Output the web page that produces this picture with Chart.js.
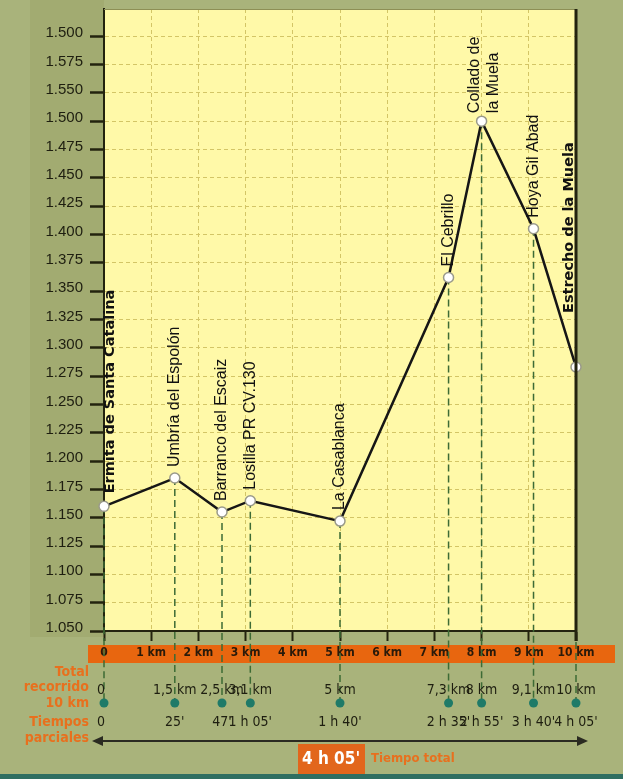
<!DOCTYPE html>
<html>
<head>
<meta charset="utf-8">
<script src="https://cdn.jsdelivr.net/npm/chart.js@4.4.1/dist/chart.umd.min.js"></script>
<style>
  html, body { margin: 0; padding: 0; background: #a9b37b; }
</style>
</head>
<body>
<canvas id="perfil" width="623" height="779"></canvas>
<script>
// Puntos de paso del recorrido
const puntos = ['Ermita de Santa Catalina', 'Umbría del Espolón', 'Barranco del Escaiz', 'Losilla PR CV.130',
  'La Casablanca', 'El Cebrillo', ['Collado de', 'la Muela'], 'Hoya Gil Abad', 'Estrecho de la Muela'];
const distancias = [0, 1.5, 2.5, 3.1, 5, 7.3, 8, 9.1, 10];
const altitudes = [1160, 1185, 1155, 1165, 1147, 1362, 1500, 1405, 1283];
const textoDistancias = ['0', '1,5 km', '2,5 km', '3,1 km', '5 km', '7,3 km', '8 km', '9,1 km', '10 km'];
const tiemposParciales = ['0', "25'", "47'", "1 h 05'", "1 h 40'", "2 h 35'", "2 h 55'", "3 h 40'", "4 h 05'"];
const tiempoTotal = "4 h 05'";

// Eje vertical (etiquetas tal como aparecen en el original)
const altTicks = [1050, 1075, 1100, 1125, 1150, 1175, 1200, 1225, 1250, 1275, 1300,
  1325, 1350, 1375, 1400, 1425, 1450, 1475, 1500, 1525, 1550, 1575];
const altEtiquetas = ['1.050', '1.075', '1.100', '1.125', '1.150', '1.175', '1.200', '1.225', '1.250', '1.275', '1.300',
  '1.325', '1.350', '1.375', '1.400', '1.425', '1.450', '1.475', '1.500', '1.550', '1.575', '1.500'];

// Eje horizontal
const kmTicks = [0, 1, 2, 3, 4, 5, 6, 7, 8, 9, 10];
const kmEtiquetas = ['0', '1 km', '2 km', '3 km', '4 km', '5 km', '6 km', '7 km', '8 km', '9 km', '10 km'];

const OSCURO = '#23230f';
const NARANJA = '#e8660f';
const FUENTE_COND = '"Liberation Sans Narrow", "DejaVu Sans Condensed", sans-serif';

// Fondo, panel y franja naranja
const fondo = {
  id: 'fondo',
  beforeDraw(chart) {
    const {ctx, chartArea: a} = chart;
    ctx.save();
    ctx.fillStyle = '#a9b37b';
    ctx.fillRect(0, 0, chart.width, chart.height);
    ctx.fillStyle = '#a2ab71';
    ctx.fillRect(30, 0, a.left - 30, a.bottom + 6);
    ctx.fillStyle = '#fff9a8';
    ctx.fillRect(a.left, a.top, a.right - a.left, a.bottom - a.top);
    ctx.fillStyle = NARANJA;
    ctx.fillRect(88, 645, 527, 18);
    ctx.restore();
  }
};

// Lineas verticales desde cada punto
const verticales = {
  id: 'verticales',
  beforeDatasetsDraw(chart) {
    const {ctx} = chart;
    const xs = chart.scales.x, ys = chart.scales.y;
    ctx.save();
    ctx.strokeStyle = '#3d6b35';
    ctx.lineWidth = 1.5;
    ctx.setLineDash([7, 4]);
    distancias.forEach((d, i) => {
      const x = xs.getPixelForValue(d);
      ctx.beginPath();
      ctx.moveTo(x, ys.getPixelForValue(altitudes[i]));
      ctx.lineTo(x, 700);
      ctx.stroke();
    });
    ctx.restore();
  }
};

// Nombres de los puntos, en vertical
const nombres = {
  id: 'nombres',
  afterDatasetsDraw(chart) {
    const {ctx} = chart;
    const xs = chart.scales.x, ys = chart.scales.y;
    const ajustes = {0: {dx: 6, gap: 13}, 6: {dx: 2, gap: 8}, 8: {dx: -7, gap: 54}};
    ctx.save();
    puntos.forEach((nombre, i) => {
      const aj = ajustes[i] || {dx: 0, gap: 11};
      const negrita = (i === 0 || i === 8);
      const x = xs.getPixelForValue(distancias[i]) + aj.dx;
      const y = ys.getPixelForValue(altitudes[i]) - aj.gap;
      const lineas = Array.isArray(nombre) ? nombre : [nombre];
      ctx.save();
      ctx.translate(x, y);
      ctx.rotate(-Math.PI / 2);
      ctx.fillStyle = '#111';
      ctx.font = negrita ? 'bold 14.5px "DejaVu Sans", sans-serif' : '16px "Liberation Sans", Arial, sans-serif';
      ctx.textAlign = 'left';
      ctx.textBaseline = 'middle';
      lineas.forEach((l, j) => {
        ctx.fillText(l, 0, (j - (lineas.length - 1) / 2) * 19);
      });
      ctx.restore();
    });
    ctx.restore();
  }
};

// Parte inferior: distancias, tiempos, flecha y total
const pie = {
  id: 'pie',
  afterDraw(chart) {
    const {ctx, chartArea: a} = chart;
    const xs = chart.scales.x;
    ctx.save();
    // borde derecho y superior
    ctx.strokeStyle = '#8d8f55';
    ctx.lineWidth = 1;
    ctx.beginPath(); ctx.moveTo(a.left, a.top + 0.5); ctx.lineTo(a.right, a.top + 0.5); ctx.stroke();
    ctx.strokeStyle = OSCURO;
    ctx.lineWidth = 3;
    ctx.beginPath(); ctx.moveTo(a.right, a.top); ctx.lineTo(a.right, a.bottom + 10); ctx.stroke();

    // textos naranjas de la izquierda
    ctx.fillStyle = '#e8701e';
    ctx.font = 'bold 14px "DejaVu Sans Condensed", sans-serif';
    ctx.textAlign = 'right';
    ctx.textBaseline = 'middle';
    [['Total', 672], ['recorrido', 687], ['10 km', 703], ['Tiempos', 722], ['parciales', 738]].forEach(t => {
      ctx.fillText(t[0], 89, t[1]);
    });

    // distancias, puntos verdes y tiempos
    ctx.textAlign = 'center';
    ctx.font = '14px ' + FUENTE_COND;
    distancias.forEach((d, i) => {
      const x = xs.getPixelForValue(d);
      ctx.fillStyle = '#1e1e10';
      ctx.fillText(textoDistancias[i], i === 0 ? x - 3 : x, 690);
      ctx.fillText(tiemposParciales[i], i === 0 ? x - 3 : x, 722);
      ctx.fillStyle = '#1f7a68';
      ctx.beginPath();
      ctx.arc(x, 703, 4.5, 0, Math.PI * 2);
      ctx.fill();
    });

    // flecha
    ctx.strokeStyle = '#2b2b22';
    ctx.fillStyle = '#2b2b22';
    ctx.lineWidth = 2;
    ctx.beginPath(); ctx.moveTo(98, 741); ctx.lineTo(582, 741); ctx.stroke();
    ctx.beginPath(); ctx.moveTo(92, 741); ctx.lineTo(103, 736); ctx.lineTo(103, 746); ctx.closePath(); ctx.fill();
    ctx.beginPath(); ctx.moveTo(588, 741); ctx.lineTo(577, 736); ctx.lineTo(577, 746); ctx.closePath(); ctx.fill();

    // tiempo total
    ctx.fillStyle = '#e2661c';
    ctx.fillRect(298, 744, 67, 31);
    ctx.fillStyle = '#fff';
    ctx.font = 'bold 17px "DejaVu Sans Condensed", sans-serif';
    ctx.fillText(tiempoTotal, 331, 760);
    ctx.fillStyle = '#e8701e';
    ctx.textAlign = 'left';
    ctx.font = 'bold 13px "DejaVu Sans Condensed", sans-serif';
    ctx.fillText('Tiempo total', 371, 759);

    // franja inferior
    ctx.fillStyle = '#2f6e61';
    ctx.fillRect(0, 774, chart.width, 5);
    ctx.restore();
  }
};

const ctx = document.getElementById('perfil').getContext('2d');
new Chart(ctx, {
  type: 'line',
  data: {
    datasets: [{
      data: distancias.map((d, i) => ({x: d, y: altitudes[i]})),
      borderColor: '#161616',
      borderWidth: 2.5,
      pointRadius: 5,
      pointBackgroundColor: '#ffffff',
      pointBorderColor: '#9a9a8a',
      pointBorderWidth: 1.5,
      tension: 0,
      clip: false
    }]
  },
  options: {
    responsive: false,
    animation: false,
    devicePixelRatio: 1,
    layout: { padding: { top: 9, right: 47, left: 0, bottom: 0 } },
    plugins: { legend: { display: false }, tooltip: { enabled: false } },
    scales: {
      x: {
        type: 'linear',
        min: 0,
        max: 10,
        afterBuildTicks: s => { s.ticks = kmTicks.map(v => ({value: v})); },
        afterFit: s => { s.height = 148; s.paddingLeft = 0; s.paddingRight = 0; },
        grid: {
          color: c => (c.tick && (c.tick.value === 0 || c.tick.value === 10)) ? 'rgba(0,0,0,0)' : '#d3c566',
          lineWidth: 1,
          tickColor: OSCURO,
          tickWidth: 2,
          tickLength: 10
        },
        border: { color: OSCURO, width: 2, dash: [4, 3] },
        ticks: {
          autoSkip: false,
          maxRotation: 0,
          padding: 5,
          color: '#2a1a0a',
          font: { family: '"DejaVu Sans Condensed", sans-serif', size: 12, weight: 'bold' },
          callback: (v) => kmEtiquetas[kmTicks.indexOf(v)]
        }
      },
      y: {
        min: 1050,
        max: 1599,
        afterBuildTicks: s => { s.ticks = altTicks.map(v => ({value: v})); },
        afterFit: s => { s.width = 104; s.paddingTop = 0; s.paddingBottom = 0; },
        grid: {
          color: '#d3c566',
          lineWidth: 1,
          tickColor: OSCURO,
          tickWidth: 2.5,
          tickLength: 14
        },
        border: { color: OSCURO, width: 2, dash: [4, 3] },
        ticks: {
          padding: 7,
          labelOffset: -3,
          color: '#1e1e10',
          font: { family: '"Liberation Sans", Arial, sans-serif', size: 15 },
          callback: (v) => altEtiquetas[altTicks.indexOf(v)]
        }
      }
    }
  },
  plugins: [fondo, verticales, nombres, pie]
});
</script>
</body>
</html>
